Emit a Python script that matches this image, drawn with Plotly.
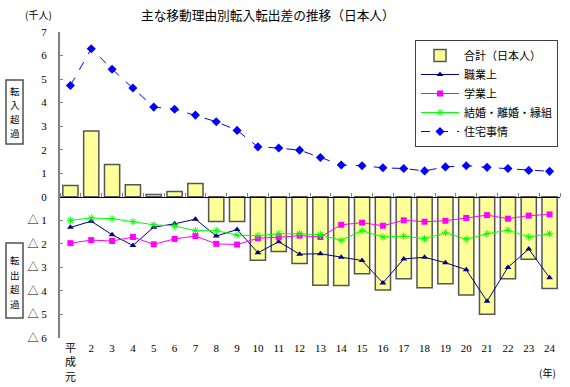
import plotly.graph_objects as go

years = ["平<br>成<br>元"] + [str(i) for i in range(2, 25)]
total = [0.48, 2.79, 1.37, 0.51, 0.10, 0.22, 0.56, -1.05, -1.05, -2.70, -2.32, -2.84,
         -3.76, -3.77, -3.27, -3.96, -3.48, -3.86, -3.69, -4.17, -4.99, -3.48, -2.65, -3.90]
occupation = [-1.30, -1.04, -1.61, -2.07, -1.29, -1.15, -0.95, -1.67, -1.39, -2.38, -1.91, -2.44,
              -2.42, -2.57, -2.71, -3.66, -2.64, -2.57, -2.80, -3.10, -4.44, -3.00, -2.22, -3.44]
education = [-1.97, -1.84, -1.88, -1.71, -2.02, -1.79, -1.67, -2.00, -2.03, -1.76, -1.72, -1.65,
             -1.71, -1.19, -1.10, -1.23, -1.00, -1.06, -1.02, -0.90, -0.78, -0.93, -0.80, -0.75]
marriage = [-1.00, -0.90, -0.93, -1.06, -1.19, -1.24, -1.44, -1.44, -1.63, -1.65, -1.57, -1.57,
            -1.61, -1.85, -1.44, -1.71, -1.67, -1.78, -1.53, -1.80, -1.57, -1.42, -1.71, -1.57]
housing = [4.73, 6.29, 5.42, 4.62, 3.81, 3.72, 3.47, 3.19, 2.82, 2.12, 2.07, 1.98,
           1.67, 1.35, 1.32, 1.23, 1.20, 1.10, 1.27, 1.32, 1.25, 1.20, 1.12, 1.08]
y_ticks = list(range(-6, 8))
y_labels = [("△ " + str(-v)) if v < 0 else str(v) for v in y_ticks]
box_in = "転入超過"
box_out = "転出超過"

idx = list(range(len(years)))
JP = "Noto Sans CJK JP"
NUM = "Liberation Serif, Noto Sans CJK JP"

fig = go.Figure()
fig.add_trace(go.Bar(x=idx, y=total, name="合計（日本人）",
                     marker=dict(color="#FFFF99", line=dict(color="#555555", width=1.5))))
fig.add_trace(go.Scatter(x=idx, y=occupation, name="職業上", xaxis="x2", yaxis="y",
                         mode="lines+markers", line=dict(color="#000080", width=1),
                         marker=dict(symbol="triangle-up", size=6, color="#000080")))
fig.add_trace(go.Scatter(x=idx, y=education, name="学業上", xaxis="x2", yaxis="y",
                         mode="lines+markers", line=dict(color="#FF00FF", width=1),
                         marker=dict(symbol="square", size=6, color="#FF00FF")))
fig.add_trace(go.Scatter(x=idx, y=marriage, name="結婚・離婚・縁組", xaxis="x2", yaxis="y",
                         mode="lines+markers", line=dict(color="#00FF00", width=1),
                         marker=dict(symbol="asterisk-open", size=6, color="#00FF00",
                                     line=dict(color="#00CC00", width=1))))
fig.add_trace(go.Scatter(x=idx, y=housing, name="住宅事情", xaxis="x2", yaxis="y",
                         mode="lines+markers", line=dict(color="#0000FF", width=1, dash="dash"),
                         marker=dict(symbol="diamond", size=7, color="#0000FF")))

W, H, L, R, T, B = 570, 387, 60, 10, 32, 49
pw, ph = W - L - R, H - T - B


def px2paper(px, py):
    return (px - L) / pw, (H - B - py) / ph


def ann(text, px, py, font, **kw):
    x, y = px2paper(px, py)
    return dict(text=text, x=x, y=y, xref="paper", yref="paper", xanchor="center",
                yanchor="middle", showarrow=False, font=font, **kw)


def rect(x0, y0, x1, y1):
    a0, b0 = px2paper(x0, y0)
    a1, b1 = px2paper(x1, y1)
    return dict(type="rect", xref="paper", yref="paper", x0=a0, y0=b0, x1=a1, y1=b1,
                line=dict(color="#505050", width=1.5), fillcolor="white")


annotations = [
    ann("主な移動理由別転入転出差の推移（日本人）", 268, 15, dict(family=JP, size=12.7)),
    ann("(千人)", 38.5, 15, dict(family=JP, size=10)),
    ann("(年)", 547, 372, dict(family=JP, size=10)),
]
for i, ch in enumerate(box_in):
    annotations.append(ann(ch, 14.5, 91 + i * 14, dict(family=JP, size=9.5)))
for i, ch in enumerate(box_out):
    annotations.append(ann(ch, 14.5, 260 + i * 14.5, dict(family=JP, size=9.5)))

lx, ly = px2paper(415, 40)
xr = [-0.5, len(years) - 0.5]
fig.update_layout(
    width=W, height=H,
    margin=dict(l=L, r=R, t=T, b=B, autoexpand=False),
    paper_bgcolor="white", plot_bgcolor="white",
    bargap=0.27,
    showlegend=True,
    font=dict(family=NUM, size=11, color="black"),
    xaxis=dict(range=xr, tickvals=idx, ticktext=years, showline=False, showgrid=False,
               zeroline=False, ticks="", tickfont=dict(family=NUM, size=11),
               ticklabelstandoff=2, automargin=False),
    xaxis2=dict(range=xr, overlaying="x", anchor="free", position=6 / 13, side="top",
                showline=True, linecolor="black", linewidth=1, ticks="outside", ticklen=4,
                tickcolor="#808080", tickvals=[i - 0.5 for i in range(len(years) + 1)],
                showticklabels=False, showgrid=False, zeroline=False, automargin=False),
    yaxis=dict(range=[-6, 7], tickvals=y_ticks, ticktext=y_labels, showline=True,
               linecolor="#808080", linewidth=2, ticks="inside", ticklen=3,
               tickcolor="#808080", showgrid=False, zeroline=False,
               tickfont=dict(family=NUM, size=11), ticklabelstandoff=9, automargin=False),
    legend=dict(x=lx, y=ly, xanchor="left", yanchor="top", itemwidth=38,
                bordercolor="#404040", borderwidth=1, bgcolor="white",
                font=dict(family=JP, size=11), tracegroupgap=0),
    shapes=[rect(6, 80, 23, 144), rect(6, 243, 23, 318)],
    annotations=annotations,
)

fig.write_html("out.html", config={"displayModeBar": False},
               post_script="document.body.style.margin='0';document.body.style.overflow='hidden';")
